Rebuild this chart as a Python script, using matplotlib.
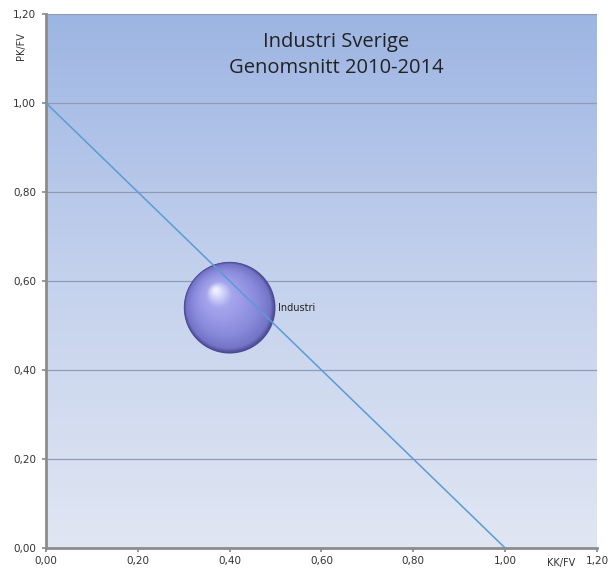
import numpy as np
import matplotlib.pyplot as plt
import matplotlib.transforms as mtransforms
from matplotlib.colors import LinearSegmentedColormap

# data
kk_fv = [0.40]
pk_fv = [0.54]
bubble_names = ['Industri']
line_x = [0.0, 1.0]
line_y = [1.0, 0.0]
ticks = [0.0, 0.2, 0.4, 0.6, 0.8, 1.0, 1.2]
tick_labels = ['0,00', '0,20', '0,40', '0,60', '0,80', '1,00', '1,20']

fig = plt.figure(figsize=(6.11, 5.71), dpi=100)
ax = fig.add_axes([0.0753, 0.0403, 0.9017, 0.9352])

# background gradient, dark blue at top to pale at bottom
bg = LinearSegmentedColormap.from_list('bg', ['#e0e6f3', '#c5d2ed', '#9db5e3'])
grad = np.linspace(0, 1, 256).reshape(-1, 1)
ax.imshow(grad, cmap=bg, origin='lower', aspect='auto', extent=[0, 1, 0, 1],
          transform=ax.transAxes, zorder=0)

ax.set_xlim(0, 1.2)
ax.set_ylim(0, 1.2)
ax.set_xticks(ticks)
ax.set_xticklabels(tick_labels)
ax.set_yticks(ticks)
ax.set_yticklabels(tick_labels)
ax.tick_params(labelsize=7.5, colors='#888888', length=3, width=1.2, pad=4)
ax.tick_params(axis='x', pad=3)
for t in ax.get_xticklabels() + ax.get_yticklabels():
    t.set_color('#333333')

for s in ['top', 'right']:
    ax.spines[s].set_visible(False)
for s in ['left', 'bottom']:
    ax.spines[s].set_color('#8c8c8c')
    ax.spines[s].set_linewidth(2)

ax.yaxis.grid(True, color='#8e9cb8', linewidth=0.9, zorder=1)
ax.set_axisbelow(True)

# shaded sphere built from stacked circles
R = 33.0  # radius in points
colors = LinearSegmentedColormap.from_list(
    'sph', [(0.0, '#4a4690'), (0.08, '#7474c8'), (0.3, '#8a8adc'),
            (0.75, '#a6a6ee'), (1.0, '#eeeeff')])
n = 80
for k in range(n):
    t = k / (n - 1)
    r = R * (1 - 0.95 * t)
    dx = -0.3 * R * t
    dy = 0.38 * R * t
    tr = mtransforms.offset_copy(ax.transData, fig=fig, x=dx, y=dy, units='points')
    ax.scatter(kk_fv, pk_fv, s=(2 * r) ** 2, color=colors(t),
               edgecolors='none', transform=tr, zorder=3)

# diagonal line
ax.plot(line_x, line_y, color='#5b9bd5', linewidth=1.1, zorder=4)

for x, y, name in zip(kk_fv, pk_fv, bubble_names):
    ax.annotate(name, (x, y), xytext=(R + 1.5, 0), textcoords='offset points',
                fontsize=7, color='#222222', va='center', zorder=5)

ax.text(0.527, 0.923, 'Industri Sverige\nGenomsnitt 2010-2014', transform=ax.transAxes,
        ha='center', va='center', fontsize=14.5, color='#222222', linespacing=1.45,
        family='Open Sans')

fig.text(0.034, 0.92, 'PK/FV', rotation=90, fontsize=7, color='#333333',
         ha='center', va='center')
fig.text(0.918, 0.014, 'KK/FV', fontsize=7, color='#333333', ha='center', va='center')

fig.savefig('out.png', dpi=100)
